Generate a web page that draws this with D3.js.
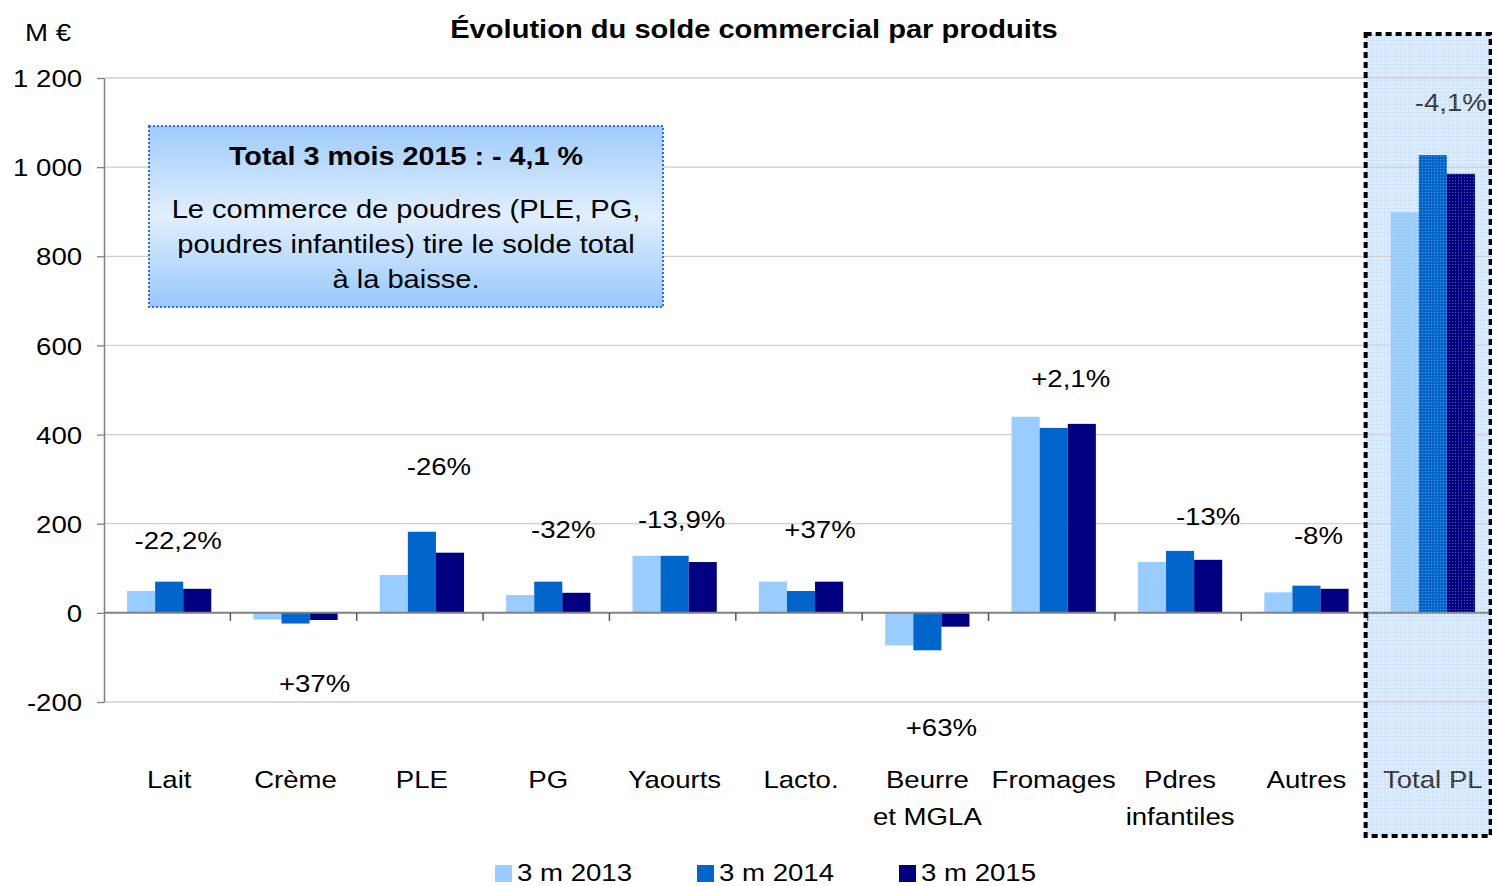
<!DOCTYPE html>
<html><head><meta charset="utf-8">
<script src="https://cdn.jsdelivr.net/npm/d3@7"></script>
<style>body{margin:0;background:#fff}svg{display:block}text{font-family:"Liberation Sans",Arial,sans-serif}</style>
</head><body><svg id="c" width="1492" height="886"></svg>
<script>
// ---- data ----
const categories = ["Lait","Crème","PLE","PG","Yaourts","Lacto.","Beurre\net MGLA","Fromages","Pdres\ninfantiles","Autres","Total PL"];
const seriesNames = ["3 m 2013","3 m 2014","3 m 2015"];
const v2013 = [49, -15, 85, 40, 128, 70, -73, 440, 114, 46, 899];
const v2014 = [70, -24, 182, 70, 128, 49, -84, 415, 139, 61, 1027];
const v2015 = [54, -16, 135, 45, 114, 70, -31, 424, 119, 54, 985];
const changeLabels = ["-22,2%","+37%","-26%","-32%","-13,9%","+37%","+63%","+2,1%","-13%","-8%","-4,1%"];
const yTicks = [-200, 0, 200, 400, 600, 800, 1000, 1200];
const colors = ["#99CCFF","#0066CC","#000080"];

// annotation anchors (value units, where the change label sits)
const labelAnchor = [164, -157, 330, 188, 211, 188, -256, 527, 217, 175, 1146];
const labelDx = [11, 21, 19, 17, 9, 21, 16, 19, 30, 14, 20];

const svg = d3.select("#c");
const SX = 1.15;
const defs = svg.append("defs");
const lg = defs.append("linearGradient").attr("id","boxg").attr("x1",0).attr("y1",0).attr("x2",0).attr("y2",1);
lg.append("stop").attr("offset","0%").attr("stop-color","#9fcbfb");
lg.append("stop").attr("offset","50%").attr("stop-color","#e1efff");
lg.append("stop").attr("offset","100%").attr("stop-color","#98c8fb");
const pat = defs.append("pattern").attr("id","grid").attr("width",4).attr("height",4).attr("patternUnits","userSpaceOnUse");
pat.append("rect").attr("width",4).attr("height",4).attr("fill","#dcecff");
pat.append("rect").attr("width",4).attr("height",1).attr("fill","#cfe3fb");
pat.append("rect").attr("width",1).attr("height",4).attr("fill","#cfe3fb");
const pat2 = defs.append("pattern").attr("id","ovl").attr("width",3).attr("height",3).attr("patternUnits","userSpaceOnUse");
pat2.append("rect").attr("width",1).attr("height",1).attr("fill","#ffffff").attr("opacity",0.35);

function txt(x, y, s, o = {}) {
  return svg.append("text")
    .attr("transform", `translate(${x},${y}) scale(${SX},1)`)
    .attr("text-anchor", o.anchor || "middle")
    .style("font-size", (o.size || 24) + "px")
    .style("font-weight", o.weight || "normal")
    .attr("fill", o.fill || "#000")
    .text(s);
}

const x0 = d3.scaleBand().domain(categories).range([104, 1494]).padding(0);
const x1 = d3.scaleBand().domain(seriesNames).range([0, x0.bandwidth()]).paddingInner(0).paddingOuter(0.75);
const y = d3.scaleLinear().domain([-200, 1200]).range([702, 78]);

// Total PL background
const tot = categories[categories.length - 1];
svg.append("rect").attr("x", x0(tot) - 2).attr("y", 34).attr("width", 127).attr("height", 802).attr("fill", "url(#grid)");

// gridlines
svg.append("g").selectAll("line").data(yTicks.filter(d => d !== 0)).join("line")
  .attr("x1", 104).attr("x2", 1492).attr("y1", d => y(d)).attr("y2", d => y(d))
  .attr("stroke", "#cfcfcf").attr("stroke-width", 1.3);

// bars
const rows = categories.map((c, i) => ({c, vals: [v2013[i], v2014[i], v2015[i]]}));
const gb = svg.append("g");
rows.forEach(r => {
  r.vals.forEach((v, k) => {
    gb.append("rect")
      .attr("x", x0(r.c) + x1(seriesNames[k]) + 2)
      .attr("width", x1.bandwidth())
      .attr("y", y(Math.max(0, v)))
      .attr("height", Math.abs(y(v) - y(0)))
      .attr("fill", colors[k]);
  });
});

// y axis
const fr = d3.formatLocale({decimal: ",", thousands: " ", grouping: [3], currency: ["", "€"], minus: "-"});
const yAxis = d3.axisLeft(y).tickValues(yTicks).tickSize(7).tickSizeOuter(0).tickPadding(12).tickFormat(fr.format(","));
const ga = svg.append("g").attr("transform", "translate(104,0)").call(yAxis);
ga.select(".domain").attr("stroke", "#808080").attr("stroke-width", 1.5);
ga.selectAll(".tick line").attr("stroke", "#808080").attr("stroke-width", 1.3);
ga.selectAll(".tick text").style("font-size", "24px").attr("fill", "#000")
  .attr("transform", `scale(${SX},1)`).attr("dy", "0.36em");

// zero line + category ticks
svg.append("line").attr("x1",104).attr("x2",1492).attr("y1",y(0)).attr("y2",y(0)).attr("stroke","#808080").attr("stroke-width",2);
svg.append("g").selectAll("line").data(categories.slice(1)).join("line")
  .attr("x1", d => x0(d)).attr("x2", d => x0(d)).attr("y1", y(0)).attr("y2", y(0) + 8)
  .attr("stroke", "#555").attr("stroke-width", 1.5);

// category labels
categories.forEach((c, i) => {
  const lines = c.split("\n");
  const isTot = i === categories.length - 1;
  lines.forEach((l, j) => txt(x0(c) + x0.bandwidth() / 2 + 2, 788 + j * 37, l, {size: 24, fill: isTot ? "#333" : "#000"}));
});

// change labels
changeLabels.forEach((s, i) => {
  const isTot = i === categories.length - 1;
  txt(x0(categories[i]) + x0.bandwidth() / 2 + labelDx[i], y(labelAnchor[i]) + 9, s, {size: 24, fill: isTot ? "#333" : "#000"});
});

// Total PL overlay + border
svg.append("rect").attr("x", x0(tot) - 2).attr("y", 34).attr("width", 127).attr("height", 802).attr("fill", "url(#ovl)");
svg.append("rect").attr("x", x0(tot) - 2).attr("y", 34).attr("width", 125).attr("height", 802)
  .attr("fill", "none").attr("stroke", "#000").attr("stroke-width", 4).attr("stroke-dasharray", "6,4");

// title & unit
txt(754, 38, "Évolution du solde commercial par produits", {size: 25.3, weight: "bold"});
txt(48, 41, "M €", {size: 24});

// text box
svg.append("rect").attr("x", 149).attr("y", 126).attr("width", 514).attr("height", 181)
  .attr("fill", "url(#boxg)").attr("stroke", "#3366ff").attr("stroke-width", 2).attr("stroke-dasharray", "2,2");
txt(406, 165, "Total 3 mois 2015 : - 4,1 %", {size: 25, weight: "bold"});
txt(406, 218, "Le commerce de poudres (PLE, PG,", {size: 25.3});
txt(406, 253, "poudres infantiles) tire le solde total", {size: 25.3});
txt(406, 288, "à la baisse.", {size: 25.3});

// legend
const lx = [495, 697, 899];
seriesNames.forEach((s, k) => {
  svg.append("rect").attr("x", lx[k]).attr("y", 865).attr("width", 17).attr("height", 17).attr("fill", colors[k]);
  txt(lx[k] + 22, 881, s, {size: 24, anchor: "start"});
});
</script></body></html>
